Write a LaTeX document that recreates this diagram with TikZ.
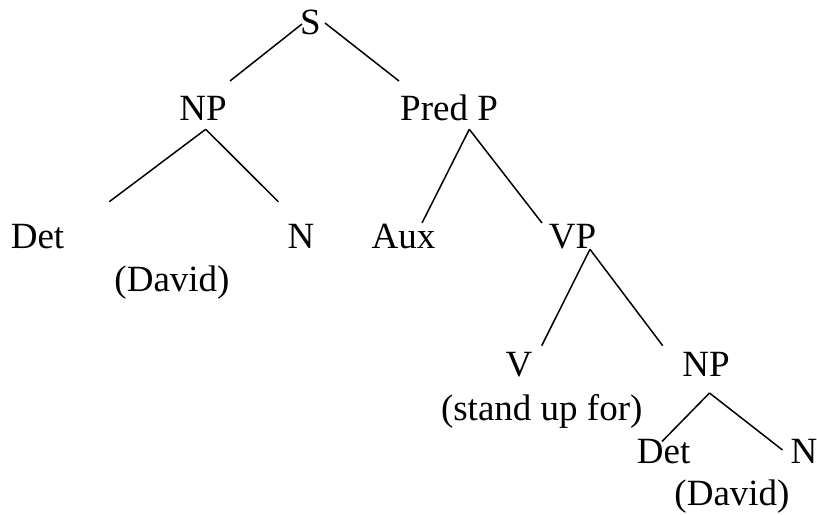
\documentclass[tikz,border=0pt]{standalone}
\usepackage{fontspec}
\setmainfont{Liberation Serif}
\begin{document}
\begin{tikzpicture}[x=1bp,y=-1bp,
  lbl/.style={anchor=base,inner sep=0pt,font=\fontsize{37bp}{44bp}\selectfont},
  branch/.style={line width=1.5bp,draw=black}]
\useasboundingbox (0,0) rectangle (817,515);
% labels
\node[lbl] (s) at (310.5,35) {S};
\node[lbl] (np1) at (203,120.7) {NP};
\node[lbl] (predp) at (449,120.7) {Pred P};
\node[lbl] (det1) at (37.5,249) {Det};
\node[lbl] (n1) at (301,249) {N};
\node[lbl] (david1) at (172,292) {(David)};
\node[lbl] (aux) at (403.5,248.3) {Aux};
\node[lbl] (vp) at (572.5,248.3) {VP};
\node[lbl] (v) at (519,376.7) {V};
\node[lbl] (np2) at (706,376.7) {NP};
\node[lbl] (standupfor) at (541.7,420) {(stand up for)};
\node[lbl] (det2) at (663.7,463) {Det};
\node[lbl] (n2) at (804,463) {N};
\node[lbl] (david2) at (732,505) {(David)};
% branch end points
\coordinate (sL) at (302,24);
\coordinate (sR) at (325,23);
\coordinate (np1T) at (230,81);
\coordinate (predpT) at (399,81);
\coordinate (np1B) at (205.7,129.3);
\coordinate (det1T) at (109.3,201.7);
\coordinate (n1T) at (278.3,201.7);
\coordinate (predpB) at (469.3,129.3);
\coordinate (auxT) at (422,223);
\coordinate (vpT) at (542,223);
\coordinate (vpB) at (590,249.3);
\coordinate (vT) at (541.7,345.7);
\coordinate (np2T) at (662.7,345.7);
\coordinate (np2B) at (709.5,393);
\coordinate (det2T) at (662,441.5);
\coordinate (n2T) at (782.5,450);
% branches
\draw[branch] (sL) -- (np1T);
\draw[branch] (sR) -- (predpT);
\draw[branch] (np1B) -- (det1T);
\draw[branch] (np1B) -- (n1T);
\draw[branch] (predpB) -- (auxT);
\draw[branch] (predpB) -- (vpT);
\draw[branch] (vpB) -- (vT);
\draw[branch] (vpB) -- (np2T);
\draw[branch] (np2B) -- (det2T);
\draw[branch] (np2B) -- (n2T);
\end{tikzpicture}
\end{document}
